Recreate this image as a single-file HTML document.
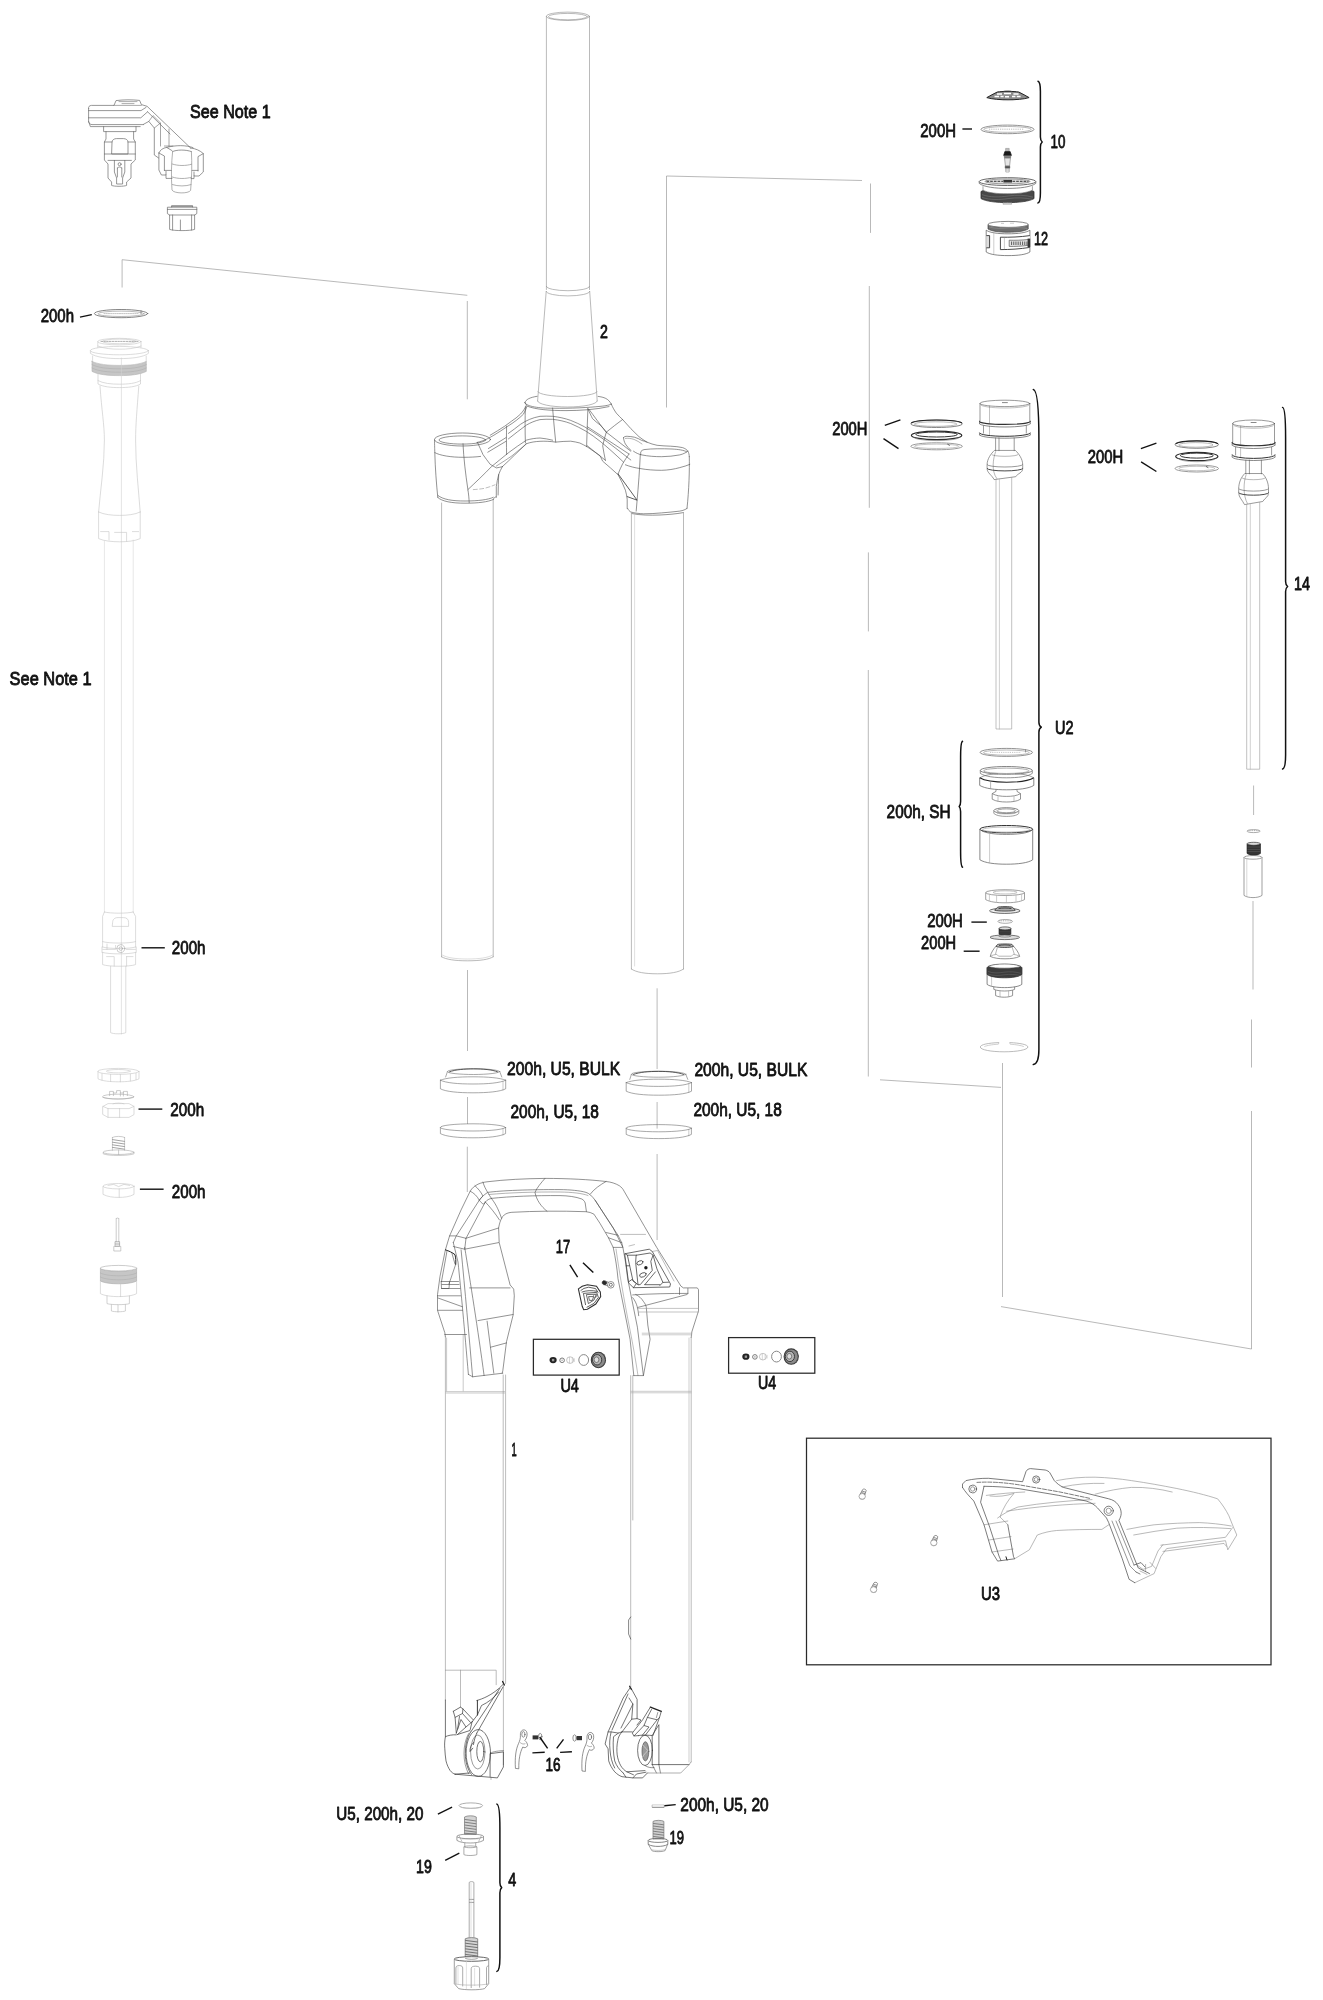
<!DOCTYPE html>
<html><head><meta charset="utf-8"><title>Fork exploded view</title>
<style>
html,body{margin:0;padding:0;background:#fff;}
body{width:1323px;height:2000px;overflow:hidden;font-family:"Liberation Sans",sans-serif;}
svg{display:block;filter:grayscale(1);}
svg text{font-family:"Liberation Sans",sans-serif;font-size:18.7px;fill:#111;stroke:#111;stroke-width:.85px;stroke-linejoin:round;}
#labels{opacity:.999}
</style></head><body>
<svg width="1323" height="2000" viewBox="0 0 1323 2000">
<rect width="1323" height="2000" fill="#fff"/>
<!-- 05_guides.svg -->
<g id="guides" fill="none" stroke="#8a8a8a" stroke-width=".6">
<path d="M122.1 287.5V259.7L467.3 295.3"/>
<path d="M467.3 301V399.3"/>
<path d="M666.5 407.5V176L862 180.5"/>
<path d="M870.5 183.5V232.9M869.3 286V507.8M868.4 552.4V631.4M868.3 670V1076.5"/>
<path d="M880 1079.8L1001 1087.4"/>
<path d="M1002.5 1063V1297"/>
<path d="M1001 1306.6L1251.5 1349"/>
<path d="M1251.5 1349V1111M1251.5 1067.5V1019.5M1253 989.5V901M1253.6 815V785.5"/>
<path d="M467.5 970V1051M467.5 1097V1124M467.3 1146.7V1192"/>
<path d="M657.1 988.3V1069M657.1 1102V1128.6M657.1 1154V1240"/>
</g>

<!-- 10_crown.svg -->
<g id="steerer" stroke="#8c8c8c" fill="none" stroke-width=".6" stroke-linecap="round" stroke-linejoin="round">
<!-- steerer tube -->
<path d="M546.4 16.5V289.5M589.5 16.5V289.5"/>
<ellipse cx="567.9" cy="16.3" rx="21.5" ry="4.2"/>
<ellipse cx="567.9" cy="16.6" rx="19.5" ry="3.2"/>
<path d="M546.4 286.5A21.5 4.2 0 0 0 589.5 286.5"/>
<path d="M546.2 291.5A21.7 4.4 0 0 0 589.7 291.5"/>
<path d="M546.2 291.5L537.6 401M589.7 291.5L597.2 401"/>
<path d="M537.9 391.8A29.6 5 0 0 0 597 391.8"/>
<path d="M537.6 401A29.8 6 0 0 0 597.2 401"/>
</g>
<g id="crown" fill="none" stroke="#4a4a4a" stroke-width=".6" stroke-linecap="round" stroke-linejoin="round">
<!-- hub top -->
<path d="M537.1 396.3C530 397.4 525.6 399.4 524.9 402.7"/>
<path d="M598.1 396.4C604 397.2 608.4 398.4 611.3 404.1"/>
<path d="M524.9 402.7C526 406.6 540 408.4 552.6 408.2C570 408.6 590 407.4 600 406.4C606 405.8 610 405 611.3 404.1"/>
<path d="M527.6 406.3C536 409.6 550 410.6 566 410.6C580 410.6 596 409.6 609 406.6"/>
<!-- upper arm contour left (double) -->
<path d="M524.9 402.7C525.4 403.6 526 404.4 526.5 405C525 408.4 523 411.4 520.5 414.1C517.6 416.8 514.6 419.2 511.4 421.3C509.2 423 507 424.6 504.7 426.2C500 429.4 495 432.2 490.2 435.2"/>
<path d="M527.1 406.2C526 409 524.8 411.6 523.5 414.1C519 418.6 513.6 422.6 507.8 426.2C503.4 429.2 498.6 432.4 493.9 435.2C491.6 436.6 489.4 437.8 487.2 438.9C484 440.4 480.6 441.6 476.9 442.5"/>
<!-- upper arm contour right -->
<path d="M611.3 404.1C612.6 407.4 614.4 410.4 616.3 413.1C618.4 415.4 620.4 417.6 622.6 419.5C625.4 422.6 628 425.6 630.8 428.6C633.6 431.4 636.4 434.2 639 436.7C641.6 438.8 644.4 440.6 647.1 442.2C650.4 443.6 653.6 444.6 657.1 445.3C662 445.8 666 446 670.7 446.2C675 446.4 679 446.8 682.5 447.6C685 448.4 686.8 449.6 687.9 451.2C688.8 452.8 689.2 454.6 689.3 456.7"/>
<!-- hub ribs -->
<path d="M525.4 406.8C525 418 525 431 525.4 443"/>
<path d="M552.6 408.1C553.4 419 554.6 431 555.7 442.1"/>
<path d="M587.9 408.6C587.4 421 587 434 586.6 446.7"/>
<path d="M587.9 408.6C589.4 412.4 591 415.6 592.5 418.6C595 421 597.4 423 600 424.9C602.4 427.4 604.6 429.8 606.3 432.2"/>
<path d="M589.1 409.5C594 416 600 424.6 606.3 432.2"/>
<!-- central arcs -->
<path d="M508.4 433.4C512.6 430.4 516.6 427.4 520.5 424.3C526 420.6 532 417.8 540 416.3C544 416.1 548.4 416.1 552.6 416.3C559 417 565 418.4 570.7 420.4C575.4 422.2 580 424.4 584.3 426.7C590 430 595 433.4 600 436.7C610 443.6 620 451.6 630.8 460"/>
<path d="M508.4 438.9C514.4 434.2 520.4 429.4 526.5 425C530.6 422.6 535 420.8 540 419.6C544 419.2 548 419.2 552.6 419.3C559 420 565 421.4 570.7 423.5C576 425.8 581 428.4 586.1 431.3C591 434.4 595.6 437.6 600 441.2C608 447.6 616 455 623.5 462.1"/>
<!-- underside lines -->
<path d="M467.9 489.6C476 482 484 474.4 491.4 466.7C497 462.2 502.6 457.4 508.4 452.8C514.4 448.4 520.4 444 526.5 440.1C531 438.8 535.4 438.2 540 438C544.4 438.4 548.6 439.2 552.6 440.2"/>
<path d="M502.3 466.7C506.4 463 510.4 459.2 514.4 455.2C518.4 451.4 522.4 447.6 526.5 443.7C530.6 442.2 535.4 441.5 540 441.3C545 441 550.6 441.4 555.7 442.1C560.6 441.6 565.6 441.2 570.7 441.2C573.8 441.6 576.8 442.2 579.8 443C582.4 444.2 584.6 445.4 587 446.7C591.4 449.6 595.6 452.6 600 455.7L602.7 461.2C608 465.6 613 470.2 618.1 474.8C621 480 623.4 485 625.4 490.2C626.4 493.4 626.8 496.4 627.2 499.3V508.4"/>
<path d="M496.3 466.1C501.6 462.8 506.8 459.4 512 455.8C516.8 451.8 521.6 447.8 526.5 443.7" stroke-opacity=".8"/>
<path d="M502.3 466.7C500.8 469.4 499.6 472 498.7 474.5C497.6 478.6 496.8 482.6 496.3 486.6V497M498.7 474.5C498.4 481 498.2 488 498.1 495" />
<!-- left arm cross + lines -->
<path d="M506.6 426.2C506.4 435 506.4 445 506.6 454.6"/>
<path d="M488.4 448.5L506 437.6M487.8 452.2L506 441.3"/>
<path d="M477.5 442.5C479.4 446.6 481.2 450.6 483 454.6C485.4 458 487.8 461.2 490.2 464.3C492.2 465.6 494.2 466.8 496.3 467.9C498.4 467.6 500.4 467.2 502.3 466.7"/>
<path d="M473.3 489.6C477 489.4 480.6 489 484.2 488.4C488 487.4 491.6 486.2 495 484.8" stroke-dasharray="4 2.4" stroke-opacity=".6"/>
<!-- right arm ribs -->
<path d="M622.6 419.5C617 423.6 611.6 427.8 606.3 432.2C605 436.6 603.6 441 602.7 445.8C603.4 450.6 604.4 455.4 605.4 460.3"/>
<path d="M629 454C626.6 457.2 624.6 460.6 622.6 463.9C621 467 619.4 470.6 618.1 473.9"/>
<path d="M587.3 426.7L629 454M606.3 432.2L630.8 451.2M587.3 445.8L605.4 460.3"/>
<path d="M618.1 473.9L637.1 500.2L627.2 496.6" stroke="#333" stroke-width=".8"/>
<!-- bolt recess -->
<path d="M623.5 437.6C624.4 436.6 625.6 436.2 627.2 436.3C629.6 436.4 632 436.7 634.4 437.2C637 438 639.4 439 641.7 440.4C643.6 441 645.4 441.6 647.1 442.2"/>
<path d="M623.5 437.6C623.6 440 624.4 442 625.4 444C627 446.4 628.8 448.4 630.8 450.3"/>
<path d="M625.4 438.4C628 438 631 438.4 634 439.4C637 440.6 639.6 442.2 642 444" stroke-opacity=".7"/>
<!-- left boss -->
<ellipse cx="462.5" cy="439.5" rx="28" ry="6.5"/>
<ellipse cx="462.3" cy="440" rx="23.3" ry="4.1"/>
<path d="M434.8 452.6C440 455.6 451 457.3 463.3 457.3C470 457.3 476 457 480.6 456.4"/>
<path d="M434.5 440C434.6 446 434.7 449 434.8 452.6C435.2 468 436.4 484 437.8 497.5"/>
<path d="M437.8 497.5C442 501.5 452 503.2 465 503.2C478 503.2 488 502 493.3 499.5"/>
<path d="M438 495.5C443 499.5 452 501 465 501C478 501 488 499.8 493.3 497.3"/>
<path d="M493.3 499.5C494 497.6 495.2 496.6 496.3 497"/>
<path d="M463 443.7C463.6 458 465.6 474 467.9 489.6C468.6 494 469 498 469.2 502.8"/>
<!-- right boss -->
<path d="M633.5 451.2C636 453 638.6 454.2 641.7 454.9C648 456.2 655 456.7 661.6 456.7C668 456.6 674 456 679.8 454.9C683.4 454 686 452.6 687.9 451.2"/>
<path d="M640.8 454.4C640 452 641 450.4 644 449.6C652 448.6 662 448.6 672 449C678 449.4 684 450 686.6 451.8" />
<path d="M625.4 464.8C630 466.6 635 467.8 639.9 468.5C647 469.8 654 470.3 661.6 470.3C668 470.2 674 469.2 679.8 467.6C683.6 466.6 687 465.6 689.8 464.4"/>
<path d="M689.3 456.7C689.6 470 689 490 687 508.4"/>
<path d="M640.3 454.4C639.6 470 638.4 486 637.1 500.2L636.2 511.1"/>
<path d="M627.6 508.4C628.4 510 629.4 511.2 630.8 512C635 513.2 639 513.6 643.5 513.8C650 513.8 656 513.4 661.6 512.9C668 512.4 674 511.8 679.8 511.1C683 510.6 685.4 509.6 687 508.4"/>
<path d="M632 513.6C640 515.2 650 515.4 660 515C668 514.6 676 514 683.4 512.6"/>
</g>
<g id="stanchions" stroke="#8c8c8c" fill="none" stroke-width=".6" stroke-linecap="round" stroke-linejoin="round">
<path d="M441.6 503V956.8M493.2 500V956.8"/>
<path d="M441.6 956.8C446 959.5 455 960.8 467.4 960.8C480 960.8 489 959.5 493.2 956.8"/>
<path d="M442.6 955.2C447 957.8 456 959 467.4 959C479 959 488 957.8 492.2 955.2" stroke-opacity=".5"/>
<path d="M631.4 513V969M683.5 513V969"/>
<path d="M631.4 969C636 972.3 645 973.8 657.5 973.8C670 973.8 679 972.3 683.5 969"/>
<path d="M634.6 515V966" stroke-opacity=".45"/>
</g>

<!-- 20_seals.svg -->
<g id="seals" stroke="#6e6e6e" fill="none" stroke-width=".6" stroke-linecap="round" stroke-linejoin="round">
<!-- left dust seal -->
<ellipse cx="473.6" cy="1071.6" rx="26.2" ry="2.9"/>
<path d="M449.5 1071.8C455 1069.6 465 1068.9 473.6 1068.9C483 1068.9 492 1069.6 497.5 1071.8" fill="none" stroke="#333" stroke-width=".8" stroke-linecap="round" stroke-linejoin="round"/>
<path d="M447.4 1071.8L445.6 1077M499.8 1071.8L501.8 1077"/>
<path d="M440.4 1080.2C446 1077.8 458 1076.8 473 1076.8C488 1076.8 500 1077.8 505.7 1080.2"/>
<path d="M440.4 1080.2V1088.8C446 1091.7 458 1092.8 473 1092.8C488 1092.8 500 1091.7 505.7 1088.8V1080.2"/>
<path d="M440.4 1080.2C446 1083 458 1084 473 1084C488 1084 500 1083 505.7 1080.2"/>
<path d="M503 1081.4V1090" stroke-opacity=".6"/>
<!-- left foam ring -->
<ellipse cx="473" cy="1127.4" rx="32.6" ry="3.6"/>
<path d="M440.4 1127.4V1133.6C446 1136.6 458 1137.8 473 1137.8C488 1137.8 500 1136.6 505.6 1133.6V1127.4"/>
<path d="M503 1128.6V1135" stroke-opacity=".6"/>
<!-- right dust seal -->
<ellipse cx="658.6" cy="1074.2" rx="27.2" ry="3"/>
<path d="M633.5 1074.4C639 1072.2 649 1071.4 658.6 1071.4C668 1071.4 678 1072.2 683.6 1074.4" fill="none" stroke="#333" stroke-width=".8" stroke-linecap="round" stroke-linejoin="round"/>
<path d="M631.4 1074.4L629.8 1079.4M685.8 1074.4L687.8 1079.4"/>
<path d="M626.2 1082.6C632 1080.2 644 1079.2 658.8 1079.2C674 1079.2 686 1080.2 691.5 1082.6"/>
<path d="M626.2 1082.6V1091.2C632 1094.1 644 1095.2 658.8 1095.2C674 1095.2 686 1094.1 691.5 1091.2V1082.6"/>
<path d="M626.2 1082.6C632 1085.4 644 1086.4 658.8 1086.4C674 1086.4 686 1085.4 691.5 1082.6"/>
<path d="M688.8 1083.8V1092.4" stroke-opacity=".6"/>
<!-- right foam ring -->
<ellipse cx="658.8" cy="1128.2" rx="32.6" ry="3.6"/>
<path d="M626.2 1128.2V1134.4C632 1137.4 644 1138.6 658.8 1138.6C674 1138.6 686 1137.4 691.4 1134.4V1128.2"/>
<path d="M688.8 1129.4V1135.8" stroke-opacity=".6"/>
</g>

<!-- 30_lower.svg -->
<g id="lower" fill="none" stroke="#4a4a4a" stroke-width=".6" stroke-linecap="round" stroke-linejoin="round">
<!-- arch outer -->
<path d="M445.4 1336.9L444.8 1332.7L437.5 1310.3V1294.6L440 1276.4L445.4 1249.8L449.6 1235.9L461.1 1209.9L470.2 1191.2C472 1188 474.5 1186 478 1184.2C481 1182.8 484 1182.2 487 1181.8C505 1179.6 525 1178.6 545 1178.4C568 1178.4 590 1179.6 606 1181.5C611 1182 615.5 1183.4 619.3 1185.7C621.5 1187.2 623 1189 624.1 1191.2L644.7 1226.8L656.7 1247.4L680.9 1286.1L683.4 1287.9H697.3L698.5 1289.7V1310.9L691.8 1332L691.2 1337.5"/>
<!-- second contour -->
<path d="M453.3 1242.6L456.3 1235.9L479.3 1200.2C481 1197.5 483.5 1195.2 487.7 1192.4C500 1190.6 530 1189.4 560 1189.6C570 1189.7 580 1190.6 586 1192.4C589 1193.2 592 1196 595.1 1200.2L618 1235.3L621.7 1242.6"/>
<path d="M466 1238.3L485.3 1202C487 1200 489 1199 491.4 1198.4C510 1196.4 535 1195.4 560 1195.6C568 1195.7 576 1196.8 581.8 1199C583.5 1200 584.5 1201 585.2 1203L586.4 1211.4"/>
<path d="M489 1194.5C510 1192.6 535 1191.8 560 1192C572 1192.2 582 1193.2 588 1195.5" stroke-opacity=".7"/>
<!-- inner opening -->
<path d="M502.2 1373.2L502.8 1370.8L506.5 1341.7L513.1 1315.1L514.3 1295.8L513.7 1289.1L510.1 1284.9L499.2 1242.6L498.6 1228C499.4 1223.5 500.4 1220.5 501.6 1218.4C502.8 1215.6 505 1214 508 1213C509.5 1212.6 510.6 1212.4 511.9 1212.3C535 1211 560 1210.8 586 1211.7C589 1212 591.6 1212.8 593.9 1214.1L599.9 1223.2L608.4 1237.7L613.2 1247.4C615.5 1258 617 1268 618 1278.8L622.9 1303L630.1 1339.3L633.8 1375.6"/>
<path d="M595.1 1200.2L613.2 1228L622.9 1247.4C625 1258 626.6 1268 627.7 1278.8L637.4 1327.2L643.4 1375.6H633.8"/>
<path d="M608.4 1237.7L621.7 1242.6L622.9 1247.4L613.2 1247.4M618 1235.3L606 1232.5"/>
<path d="M616 1249C619 1270 624 1300 630 1330C633 1345 636 1362 638 1375.6" stroke-opacity=".6"/>
<!-- arch cross lines -->
<path d="M482.9 1182.1C484 1186 486 1189.6 487.7 1192.4C489 1194.5 490 1196.5 491.4 1198.4"/>
<path d="M475 1185.7C478 1188.5 481 1192 482.9 1196L479.3 1200.2"/>
<path d="M470.2 1191.2C474 1193 477 1196 479.3 1200.2C482 1203.5 484 1206 485.3 1202"/>
<path d="M545 1178.4C541 1183 537 1187.5 535 1192.4C536.5 1200 541 1206.5 547 1211.2"/>
<path d="M606 1181.5C600 1185 594 1189 590.2 1194.2"/>
<path d="M491.4 1198.4C495 1203 498 1208 501.6 1218.4M485.3 1202C490 1207 495 1213 499.5 1220"/>
<!-- left panel facets -->
<path d="M466 1238.3L498.6 1228M464.7 1249.2L498.6 1242.6M469.6 1287.9H510.1M478 1320.6L513.1 1314.5M490.7 1347.2L506.5 1342.9"/>
<path d="M487.1 1321.2L493.8 1373.2"/>
<path d="M502.8 1373.2L472.6 1376.8L468.4 1374.4"/>
<path d="M453.3 1242.6L458 1262C461 1290 464.5 1330 468.4 1374.4"/>
<path d="M464.7 1247.4C470 1280 478 1330 484.1 1375.6"/>
<path d="M461.1 1249.8C465 1290 469 1335 472.6 1376.8"/>
<path d="M449.6 1235.9L456.3 1235.9L466 1238.3L464.7 1249.2L453.3 1246.5"/>
<!-- hose guide left -->
<path d="M445.4 1249.8C449 1251 452.5 1252.6 455 1254.7C455.8 1258 456 1261 455.7 1264.3" stroke="#222" stroke-width="1" fill="none" stroke-linecap="round" stroke-linejoin="round"/>
<path d="M447 1251L441.5 1281.5M455.7 1264.3L449 1284M452 1253.5L455 1264"/>
<path d="M441.2 1281.5H458.5M441.2 1281.5L441.5 1288.5H449L449.5 1282M441.5 1288.5H460M442 1284.5H459" />
<path d="M437.5 1295.8H460.5M438 1298L462.3 1306.7M437.8 1310.3H462.5M444.8 1334.5H466.5"/>
<path d="M445.4 1336.9V1700" stroke="#8e8e8e"/>
<path d="M446.6 1338V1391M463.2 1335V1391" stroke-opacity=".5"/>
<path d="M446 1391.6H504.7M446 1393H504.7" stroke="#a8a8a8"/>
<!-- left leg inner edges -->
<path d="M503.2 1375V1683.5M505.6 1375V1683.5" stroke="#8e8e8e"/>
<!-- right: brake-mount recess -->
<path d="M620.6 1234.4H645.5" stroke="#8e8e8e"/>
<g stroke="#3a3a3a" stroke-width=".75">
<path d="M625.1 1253.7L649.3 1249.2L652.3 1251.5L670.5 1284L669.7 1287L633.4 1287.7L628.9 1283.2Z"/>
<path d="M636.5 1255.2L650.1 1253L653.1 1255.2L650.8 1261.3L652.3 1270.4L640.2 1284.7L638 1284.7L635.7 1262.8Z"/>
<path d="M655.4 1271.9L644.8 1284.7M653.1 1255.2L656.9 1268.8L662.9 1282.4L659.9 1285.5"/>
<path d="M625.1 1253.7L627.4 1255.2L629.7 1265.8H626.2M627.4 1255.2L636.5 1255.2M629.7 1265.8L633 1281L638 1284.7"/>
<path d="M628.9 1281.7L632 1279.4L636.4 1283.6L633.4 1287.7M644.8 1284.7H659.9M662.9 1282.4L668.6 1282.2"/>
<ellipse cx="639.9" cy="1262.8" rx="3.3" ry="1.9" transform="rotate(-22 639.9 1262.8)"/>
<ellipse cx="642.9" cy="1274.9" rx="3.5" ry="2" transform="rotate(-22 642.9 1274.9)"/>
<circle cx="645.9" cy="1267.7" r="1.7" fill="#1a1a1a" stroke="none"/>
</g>
<path d="M629 1246L634.5 1244.6M652.3 1251.5L657.5 1250.5L674 1281" stroke-opacity=".6"/>
<path d="M632.7 1294.9C650 1293.8 670 1293.4 687.9 1293.4M687.9 1288.5V1293.4M679.5 1287.7V1294.5"/>
<path d="M635.7 1294.5C639 1296 641.6 1298.4 643.3 1301.3C645 1303.4 646 1305.4 646.3 1307.4L647.8 1325L650.1 1339.3L643.4 1375.6"/>
<path d="M632.7 1297.6C635 1300.6 636.4 1303.6 637.2 1306.6C638 1309.6 638.4 1312.6 638.7 1315.7"/>
<path d="M638 1307.4L687.1 1294.5"/>
<path d="M638 1308.4H698.5M638.7 1312H698.4" stroke="#9a9a9a"/>
<path d="M642.2 1333.2H691.8M642.2 1334.8H691.8" stroke="#a8a8a8"/>
<!-- right leg -->
<path d="M691.2 1337.5V1762" stroke="#8e8e8e"/>
<path d="M689 1338V1762" stroke="#b0b0b0"/>
<path d="M630.7 1375.6V1686.6M632.8 1375.6V1520" stroke="#8e8e8e"/>
<path d="M630.9 1391.3H691.2M630.9 1392.8H691.2" stroke="#a8a8a8"/>
<!-- little lug on right leg inner -->
<path d="M630.7 1617L628.6 1620V1634L630.7 1639" stroke="#333"/>
<!-- left leg bottom -->
<path d="M445.4 1670.2H496.2V1684.7M460.5 1670.2V1707.5" stroke="#8e8e8e"/>
<path d="M503.4 1684V1764.6" stroke="#8e8e8e"/>
<path d="M502.6 1681.5L504.4 1685" stroke="#222" stroke-width="1.3"/>
</g>

<!-- 32_dropouts.svg -->
<g id="dropL" stroke="#383838" stroke-width=".7" fill="none" stroke-linecap="round" stroke-linejoin="round">
<!-- strut from leg inner to dropout -->
<path d="M503.4 1684.1C498 1690 492 1694 487 1696.5C483 1698.5 480 1699.6 476.8 1700.5"/>
<path d="M477.4 1700.5V1715" stroke="#222" stroke-width=".9"/>
<path d="M477.4 1715L481.5 1705.5C488 1702.5 494 1698 498.6 1692"/>
<path d="M499.8 1688.4L470.8 1731.9M503 1687L476.8 1733.1"/>
<path d="M477.4 1715L472 1722"/>
<!-- brake post -->
<path d="M453.3 1711.3L460.5 1707.1L462.9 1708.9L473.2 1719.8" stroke="#333"/>
<path d="M453.3 1711.3L455.1 1717.4L456.3 1733.1M455.1 1717.4L462.5 1713.5L462.9 1708.9M462.5 1713.5L470.5 1722.5"/>
<path d="M456.3 1733.1L461 1719.5L466 1727L457.5 1734.5M459.5 1716.5L457.6 1729"/>
<path d="M466 1727L472.5 1721.5M457.5 1734.5L470 1730.5L472 1722"/>
<!-- outer C -->
<path d="M445.4 1700V1736.7C444.6 1741 444.4 1745 444.8 1748.8C445 1753 445.4 1757 446 1760.9C447 1765 448.5 1768 450.2 1770.6C451.6 1772.4 453 1773.4 455.1 1774.2"/>
<path d="M445.4 1736.7C448 1735.4 452 1734.6 456.3 1734.8"/>
<path d="M455.1 1774.2L469.6 1773"/>
<path d="M455.1 1774.2L497.4 1777.9L503.4 1767V1751.9L490.1 1753.7V1776.5"/>
<path d="M490.1 1753.7C491 1752 496 1751 503.4 1750.6" stroke-opacity=".7"/>
<path d="M491 1777.3V1779.5" stroke-opacity=".5"/>
<!-- axle boss -->
<ellipse cx="478.3" cy="1753" rx="12.2" ry="23.4"/>
<path d="M470.6 1731.9C467 1737 465.2 1745 465.3 1753.5C465.4 1762 467.6 1769.5 471.5 1774.5"/>
<path d="M468.6 1733.5C465.5 1739 464 1746 464 1753.5C464 1761 465.6 1768 468.5 1773.6" stroke-opacity=".7"/>
<ellipse cx="480.3" cy="1751.6" rx="3.5" ry="10.2"/>
<ellipse cx="477.8" cy="1752" rx="7.2" ry="17" stroke-opacity=".7"/>
<path d="M473.5 1742.5C471 1745 469.8 1748 470 1751.5L472.8 1748.2"/>
<path d="M476.8 1733.1C475 1737 474 1741 473.5 1744.5"/>
</g>
<g id="dropR" stroke="#383838" stroke-width=".7" fill="none" stroke-linecap="round" stroke-linejoin="round">
<path d="M630.5 1687.2L623.2 1698L608.1 1731.9L605.1 1744L608.1 1748.8L608.7 1760.9C610 1765 612 1768.5 614.7 1771.8C617 1774 619 1775.6 622 1776.7L632.9 1777.9H642.6L647.4 1773"/>
<path d="M629.6 1686.2L631.4 1689.5" stroke="#222" stroke-width="1.2"/>
<path d="M630.5 1687.2L637.1 1699.3V1718.6L631.7 1719.2L632.9 1704.1L629 1698"/>
<path d="M628 1694L612 1730M632.9 1704.1L621 1728M631.7 1719.2L622 1731.9"/>
<path d="M637.1 1718.6L641 1720L637 1725"/>
<path d="M608.1 1731.9L611.1 1731.9L618.4 1733.1L622 1731.9"/>
<path d="M618.4 1733.1L613.5 1736.7C612.8 1745 613.2 1753 614.7 1760.9C616.5 1766 619.5 1770 623.2 1773"/>
<path d="M611.1 1731.9C609.6 1738 609.4 1744 610 1750C610.5 1757 612 1763 614.7 1768"/>
<path d="M622 1731.9C619.5 1734.5 618.2 1737.5 617.8 1740.4C616.8 1745 616.6 1750 617.2 1754.9C617.8 1759 619 1762.5 620.8 1765.8C622.5 1768.5 624.4 1770.4 626.8 1771.8L645 1770.6"/>
<path d="M622 1731.9H632.3"/>
<path d="M623.2 1773L626 1777.3M632.9 1777.9L636.5 1774L646 1772.2M626.8 1771.8L633.5 1774.8"/>
<!-- brake post R -->
<path d="M650.4 1707.1L661.3 1711.3" stroke="#222" stroke-width="1.3"/>
<path d="M650.4 1707.1L642.6 1719.8L632.3 1733.1L634 1736L644 1725.5L647.4 1717.4L657.1 1719.8L659.5 1717.4L661.3 1711.3"/>
<path d="M651.5 1709.5L647.4 1717.4M657.1 1719.8L645.5 1735M659.5 1717.4L653 1735.5M634 1736L638.5 1735.6M644 1725.5L649 1727L642 1735.6"/>
<path d="M657.8 1712.5L656.4 1717.6" stroke-opacity=".7"/>
<!-- axle boss R -->
<ellipse cx="645" cy="1750.3" rx="7.4" ry="15.2"/>
<ellipse cx="645.4" cy="1751.3" rx="3.4" ry="9.6" fill="#9a9a9a" stroke="#555"/>
<path d="M642.4 1744.5C643.5 1747 646.5 1748 647.6 1750.5C646.5 1753 643.5 1754 642.6 1757" stroke="#ddd" stroke-width=".7"/>
<path d="M638.5 1735.6C640 1735 645 1735 652.2 1735.5L658.9 1724.7V1764.6M652.2 1735.5V1764.6M652.2 1764.6H689.1"/>
<path d="M652.4 1765L656.5 1773M658.9 1764.6L660.5 1773" stroke-opacity=".8"/>
<path d="M691 1762L689.1 1764.6L680.7 1773H647.4" stroke="#8e8e8e"/>
<path d="M645 1765.6C648 1767.5 651 1768 654 1767.6" stroke-opacity=".8"/>
</g>
<g id="clips16" fill="none" stroke="#4a4a4a" stroke-width=".6" stroke-linecap="round" stroke-linejoin="round">
<!-- left clip -->
<g transform="translate(-66.6 -2.6) scale(1.0)">
<path d="M582 1770.6C581.4 1760 582.4 1752 585.2 1746C586.4 1743.4 587.2 1740.8 587 1738C586.8 1735.4 587.6 1733.4 589.4 1732.6C591.4 1732 593.2 1733.2 593.6 1735.6C594 1738.4 593.2 1741 591.4 1743C593 1744.4 594.2 1746.2 594.2 1748.2C593 1750.4 591 1750.8 589.4 1749.6C586.6 1755 585.2 1762 585.4 1771Z"/>
<ellipse cx="590" cy="1737" rx="1.6" ry="2.8"/>
<path d="M587 1745.4C588.6 1746.6 590.2 1747 591.6 1746.4" stroke-opacity=".7"/>
</g>
<!-- left screw -->
<rect x="532.6" y="1735.4" width="5.6" height="4" fill="#333" stroke="none"/>
<ellipse cx="540.2" cy="1736.6" rx="1.7" ry="3.2"/>
<!-- right clip -->
<path d="M582 1770.6C581.4 1760 582.4 1752 585.2 1746C586.4 1743.4 587.2 1740.8 587 1738C586.8 1735.4 587.6 1733.4 589.4 1732.6C591.4 1732 593.2 1733.2 593.6 1735.6C594 1738.4 593.2 1741 591.4 1743C593 1744.4 594.2 1746.2 594.2 1748.2C593 1750.4 591 1750.8 589.4 1749.6C586.6 1755 585.2 1762 585.4 1771Z"/>
<ellipse cx="590" cy="1737" rx="1.6" ry="2.8"/>
<path d="M587 1745.4C588.6 1746.6 590.2 1747 591.6 1746.4" stroke-opacity=".7"/>
<rect x="576.6" y="1736" width="5.4" height="4.2" fill="#333" stroke="none"/>
<ellipse cx="574.6" cy="1738" rx="1.7" ry="3.2"/>
</g>

<!-- 40_topcap.svg -->
<g id="topcap10">
<!-- knob -->
<path d="M986.8 97.6C990 96 994 93.4 997.3 92C1002 91.2 1014 91.2 1018.7 92C1022 93.4 1026 96 1029.1 97.6C1024 99.2 1016 99.8 1008 99.8C1000 99.8 992 99.2 986.8 97.6Z" fill="#8c8c8c" stroke="#222" stroke-width="1"/>
<path d="M994.5 96.4H999M1000.5 96.6H1003.6M1005 96.8H1009M1012 96.6H1015.4M1016.8 96.4H1020.6M997 94H1002M1004 93.6H1011M1013.4 94H1018.6" stroke="#fff" stroke-width="1.5" fill="none"/>
<path d="M1003 91.4C1004 90.6 1011 90.6 1012 91.4" fill="none" stroke="#4a4a4a" stroke-width=".6" stroke-linecap="round" stroke-linejoin="round"/>
<path d="M1003 100.6H1013" fill="none" stroke="#bdbdbd" stroke-width=".6" stroke-linecap="round" stroke-linejoin="round"/>
<!-- oring -->
<ellipse cx="1007.5" cy="129.4" rx="26.5" ry="4.3" fill="none" stroke="#777" stroke-width=".8"/>
<ellipse cx="1007.5" cy="129.4" rx="23.6" ry="2.9" fill="none" stroke="#999" stroke-width=".7"/>
<path d="M989 129.2H1024" stroke="#aaa" stroke-width=".8" stroke-dasharray="1.2 1"/>
<!-- valve core -->
<path d="M1005.6 148.4H1009.2V151.4H1005.6Z" fill="#bbb" stroke="#888" stroke-width=".5"/>
<path d="M1003.6 155.4L1004.8 151.6H1010.2L1011.5 155.4Z" fill="#1a1a1a" stroke="#111" stroke-width=".6"/>
<path d="M1004.2 156.2H1010.8L1010.4 158.6H1004.6Z" fill="#777" stroke="#555" stroke-width=".5"/>
<path d="M1004.6 158.6L1005.4 166H1009.6L1010.4 158.6" fill="#e6e6e6" stroke="#777" stroke-width=".6"/>
<path d="M1005.2 166.2H1009.8V168.2H1005.2Z" fill="#555" stroke="#444" stroke-width=".5"/>
<path d="M1005.8 168.2V172H1009.2V168.2M1005.6 170H1009.4" fill="none" stroke="#888" stroke-width=".6"/>
<!-- cap body -->
<path d="M981 191.5V198.6C986 201.4 996 202.6 1007.5 202.6C1019 202.6 1029 201.4 1034 198.6V191.5C1029 188.9 1019 188 1007.5 188C996 188 986 188.9 981 191.5Z" fill="#484848" stroke="#333" stroke-width=".8"/>
<path d="M982 194.6C990 197.6 1000 197.2 1008 196C1016 194.8 1026 195 1033 197.2M982 197.4C990 200.2 1000 199.8 1008 198.6C1016 197.4 1026 197.6 1033 199.6" fill="none" stroke="#777" stroke-width=".6"/>
<path d="M983 186.2V190.2C988 192.8 997 193.8 1007.5 193.8C1018 193.8 1027 192.8 1032.4 190.2V186.2" fill="#fff" stroke="#666" stroke-width=".6"/>
<ellipse cx="1007.5" cy="181.6" rx="28.3" ry="3.9" fill="#fff" stroke="#444" stroke-width=".8"/>
<path d="M979.2 181.8V183.4C984 187 995 188.4 1007.5 188.4C1020 188.4 1031 187 1035.8 183.4V181.8" fill="none" stroke="#555" stroke-width=".7"/>
<ellipse cx="1007.5" cy="181.4" rx="22.5" ry="2.5" fill="#ddd" stroke="#666" stroke-width=".6"/>
<path d="M986.5 181.4H1003M1012.5 181.4H1028.5" stroke="#555" stroke-width="1.3" stroke-dasharray="2.6 1.1" fill="none"/>
<rect x="1003.4" y="179.9" width="8.6" height="2.6" fill="#333"/>
<path d="M1003 202.9H1011.6V204.3H1003Z" fill="#ddd" stroke="#999" stroke-width=".5"/>
</g>
<g id="part12">
<path d="M986.2 230.2V252C990 254.6 998 255.6 1008 255.6C1018 255.6 1026 254.6 1029.9 252V230.2" fill="#fff" stroke="#555" stroke-width=".7"/>
<path d="M988 224.4V229C992 231.4 999 232.2 1008.1 232.2C1017 232.2 1024 231.4 1028.2 229V224.4" fill="#6e6e6e" stroke="#444" stroke-width=".7"/>
<ellipse cx="1008.1" cy="224.4" rx="20.1" ry="3" fill="#fff" stroke="#555" stroke-width=".7"/>
<path d="M986.2 230.2C990 232.8 998 233.8 1008 233.8C1018 233.8 1026 232.8 1029.9 230.2" fill="none" stroke="#555" stroke-width=".7"/>
<path d="M989 227C996 229 1003 228.4 1008 227.8C1014 227.2 1022 227.4 1027.6 228.6" fill="none" stroke="#999" stroke-width=".5"/>
<path d="M1001 223.4H1004M1010 223.2H1014" stroke="#999" stroke-width=".5"/>
<path d="M993.8 231.8V254" stroke="#aaa" stroke-width=".6"/>
<path d="M986.4 235.6H989.6V247.8H986.4" fill="#ddd" stroke="#333" stroke-width=".9"/>
<path d="M1029.9 235.6C1020 237 1010 237.4 1000.4 237.2V249.6C1010 249.6 1020 249 1029.9 247.4" fill="#fff" stroke="#333" stroke-width=".9"/>
<path d="M1004.4 237.6V249.4" stroke="#999" stroke-width=".5"/>
<path d="M1029.4 239.4C1022 240.2 1015 240.4 1009.2 240.2V246.4C1015 246.6 1022 246.2 1029.4 245.2" fill="#e4e4e4" stroke="#555" stroke-width=".7"/>
<path d="M1011 243.3H1029" stroke="#666" stroke-width="3.4" stroke-dasharray="1.1 1.1"/>
<rect x="1027.6" y="238.6" width="2.6" height="8.4" fill="#333"/>
</g>

<!-- 50_pistons.svg -->
<g id="ringsU2" fill="none">
<ellipse cx="936.6" cy="423.8" rx="25.8" ry="3.7" stroke="#666" stroke-width=".8"/>
<path d="M911.3 423.0A25.8 3.7 0 0 1 961.9 423.0" stroke="#222" stroke-width="1.2"/>
<ellipse cx="935.6" cy="424.1" rx="21.3" ry="2.3" stroke="#888" stroke-width=".6"/>
<ellipse cx="936.6" cy="435.4" rx="25.2" ry="4.2" stroke="#2a2a2a" stroke-width="1.2"/>
<ellipse cx="936.6" cy="434.5" rx="20.6" ry="2.5" stroke="#333" stroke-width="1"/>
<path d="M913.8 437.0A22.8 3.6 0 0 0 959.4 437.0" stroke="#777" stroke-width=".6"/>
<ellipse cx="936.6" cy="446.3" rx="25.8" ry="3.5" stroke="#8e8e8e" stroke-width=".9"/>
<ellipse cx="936.6" cy="446.3" rx="22.2" ry="2.2" stroke="#aaa" stroke-width=".7"/>
<path d="M947.4 444.1l2.4 1.4" stroke="#555" stroke-width=".9"/>
</g>
<g id="pistonU2" stroke="#555" fill="none" stroke-width=".6" stroke-linecap="round" stroke-linejoin="round">
<path d="M980.0 403.4V421.2M1029.8 403.4V421.2"/>
<ellipse cx="1004.9" cy="403.4" rx="24.9" ry="3.2"/>
<path d="M980.5 404.8A24.4 3.2 0 0 0 1029.3 404.8" stroke-opacity=".6"/>
<path d="M1002.4 402.6h5.0" stroke="#888" stroke-width="1"/>
<path d="M989.5 406.0V423.2" stroke-opacity=".6"/>
<path d="M979.5 421.2A25.4 3.2 0 0 0 1030.3 421.2" stroke="#333" stroke-width="1.1"/>
<path d="M979.5 423.8A25.4 3.2 0 0 0 1030.3 423.8" stroke="#555" stroke-width="0.7"/>
<path d="M979.5 421.2v2.6M1030.3 421.2v2.6"/>
<path d="M983.5 425.7V433.1M1026.3 425.7V433.1"/>
<path d="M989.5 426.2V435.5" stroke-opacity=".6"/>
<path d="M979.5 433.1A25.4 3.2 0 0 0 1030.3 433.1" stroke="#333" stroke-width="1.0"/>
<path d="M979.5 435.0A25.4 3.2 0 0 0 1030.3 435.0" stroke="#555" stroke-width="0.7"/>
<path d="M979.5 433.1v1.9M1030.3 433.1v1.9"/>
<path d="M995.6 437.9V450.7M1014.2 437.9V450.7M999.0 437.9V450.7"/>
<path d="M994.1 450.7C991.1 453.7 987.1 458.8 987.1 464.8L987.1 468.7C987.1 472.8 992.1 475.4 994.1 479.6L1015.7 476.7C1017.7 473.4 1022.7 472.8 1022.7 468.7L1022.7 464.8C1022.7 458.8 1018.7 453.7 1015.7 450.7Z"/>
<path d="M987.1 464.8A17.8 2.2 0 0 0 1022.7 464.8"/>
<path d="M987.1 468.7A17.8 2.2 0 0 0 1022.7 468.7" stroke="#333" stroke-width=".9"/>
<path d="M991.7 454.7A13.2 1.6 0 0 0 1018.1 454.7" stroke-opacity=".7"/>
<path d="M995.6 451.7C993.1 458.7 991.1 470.8 996.7 478.4" stroke-opacity=".7"/>
<path d="M996.0 479.4V729.0H1011.7V477.4" stroke="#979797"/>
<path d="M999.4 479.0V729.0" stroke="#b0b0b0"/>
</g>
<g id="rings14" fill="none">
<ellipse cx="1196.8" cy="444.6" rx="21.7" ry="3.7" stroke="#666" stroke-width=".8"/>
<path d="M1175.6 443.8A21.7 3.7 0 0 1 1218.0 443.8" stroke="#222" stroke-width="1.2"/>
<ellipse cx="1195.8" cy="444.9" rx="17.2" ry="2.3" stroke="#888" stroke-width=".6"/>
<ellipse cx="1196.8" cy="456.5" rx="21.1" ry="4.2" stroke="#2a2a2a" stroke-width="1.2"/>
<ellipse cx="1196.8" cy="455.6" rx="16.5" ry="2.5" stroke="#333" stroke-width="1"/>
<path d="M1178.1 458.1A18.7 3.6 0 0 0 1215.5 458.1" stroke="#777" stroke-width=".6"/>
<ellipse cx="1196.8" cy="468.5" rx="21.7" ry="3.5" stroke="#8e8e8e" stroke-width=".9"/>
<ellipse cx="1196.8" cy="468.5" rx="18.1" ry="2.2" stroke="#aaa" stroke-width=".7"/>
<path d="M1205.9 466.3l2.4 1.4" stroke="#555" stroke-width=".9"/>
</g>
<g id="piston14" stroke="#555" fill="none" stroke-width=".6" stroke-linecap="round" stroke-linejoin="round">
<path d="M1232.7 423.4V442.4M1274.5 423.4V442.4"/>
<ellipse cx="1253.6" cy="423.4" rx="20.9" ry="3.4"/>
<path d="M1233.2 424.9A20.4 3.4 0 0 0 1274.0 424.9" stroke-opacity=".6"/>
<path d="M1251.1 422.5h5.0" stroke="#888" stroke-width="1"/>
<path d="M1240.6 426.1V444.5" stroke-opacity=".6"/>
<path d="M1232.2 442.4A21.4 3.4 0 0 0 1275.0 442.4" stroke="#333" stroke-width="1.1"/>
<path d="M1232.2 445.1A21.4 3.4 0 0 0 1275.0 445.1" stroke="#555" stroke-width="0.7"/>
<path d="M1232.2 442.4v2.8M1275.0 442.4v2.8"/>
<path d="M1235.6 447.1V455.0M1271.6 447.1V455.0"/>
<path d="M1240.6 447.7V457.6" stroke-opacity=".6"/>
<path d="M1232.2 455.0A21.4 3.4 0 0 0 1275.0 455.0" stroke="#333" stroke-width="1.0"/>
<path d="M1232.2 457.1A21.4 3.4 0 0 0 1275.0 457.1" stroke="#555" stroke-width="0.7"/>
<path d="M1232.2 455.0v2.0M1275.0 455.0v2.0"/>
<path d="M1245.8 460.1V473.8M1261.4 460.1V473.8M1249.4 460.1V473.8"/>
<path d="M1244.5 473.8C1241.3 477.0 1238.7 482.4 1238.7 488.8L1238.7 492.9C1238.7 497.3 1242.4 500.1 1244.5 504.6L1262.7 501.5C1264.8 497.9 1268.5 497.3 1268.5 492.9L1268.5 488.8C1268.5 482.4 1265.9 477.0 1262.7 473.8Z"/>
<path d="M1238.7 488.8A14.9 2.3 0 0 0 1268.5 488.8"/>
<path d="M1238.7 492.9A14.9 2.3 0 0 0 1268.5 492.9" stroke="#333" stroke-width=".9"/>
<path d="M1242.0 478.0A11.6 1.7 0 0 0 1265.2 478.0" stroke-opacity=".7"/>
<path d="M1246.1 474.8C1243.4 482.3 1242.9 495.2 1247.3 503.3" stroke-opacity=".7"/>
<path d="M1246.7 504.3V769.2H1259.7V502.3" stroke="#979797"/>
<path d="M1250.3 503.9V769.2" stroke="#b0b0b0"/>
</g>

<!-- 55_sealhead.svg -->
<g id="sealhead" fill="none">
<!-- top oring -->
<ellipse cx="1006.3" cy="752.4" rx="26.2" ry="4" stroke="#777" stroke-width=".8"/>
<ellipse cx="1006.3" cy="752.6" rx="22.8" ry="2.6" stroke="#999" stroke-width=".7"/>
<path d="M990 752.4H1021" stroke="#aaa" stroke-width=".7" stroke-dasharray="1.2 1"/>
<path d="M1025.5 749.4v3" stroke="#777" stroke-width=".7"/>
<!-- seal head -->
<ellipse cx="1006.3" cy="770.4" rx="26" ry="3.9" stroke="#666" stroke-width=".8"/>
<ellipse cx="1006.3" cy="770.8" rx="22.6" ry="2.7" stroke="#888" stroke-width=".7"/>
<path d="M980.3 770.6V773.4C985 776.6 995 777.8 1006.3 777.8C1018 777.8 1028 776.6 1032.3 773.4V770.6" stroke="#666" stroke-width=".7"/>
<path d="M979.7 777.8C985 774.8 992 774 998 773.8M1033.8 777.8C1029 774.8 1022 774 1015 773.8" stroke="#666" stroke-width=".6"/>
<path d="M979.7 777.8C985 781 995 782.2 1006.6 782.2C1018 782.2 1029 781 1033.8 777.8" stroke="#222" stroke-width="1.1"/>
<path d="M979.7 777.8V785.4C985 788.6 995 789.8 1006.6 789.8C1018 789.8 1029 788.6 1033.8 785.4V777.8" stroke="#555" stroke-width=".7"/>
<path d="M990.6 781.4V789" stroke="#888" stroke-width=".6"/>
<path d="M996 789.6V791.4L992.2 793.6V799.2C996 801.4 1001 802 1006.4 802C1012 802 1017 801.4 1020.5 799.2V793.6L1017 791.4V789.6" stroke="#666" stroke-width=".7"/>
<path d="M992.2 793.6C996 795.8 1001 796.4 1006.4 796.4C1012 796.4 1017 795.8 1020.5 793.6" stroke="#666" stroke-width=".7"/>
<path d="M998 796.2V801.6M1014 796.2V801.6" stroke="#999" stroke-width=".6"/>
<!-- small ring -->
<ellipse cx="1006.3" cy="810.6" rx="12.5" ry="2.9" stroke="#666" stroke-width=".8"/>
<ellipse cx="1006.3" cy="810.8" rx="9.4" ry="1.9" stroke="#777" stroke-width=".7"/>
<path d="M993.8 810.8V813.4C996 815.6 1001 816.4 1006.3 816.4C1012 816.4 1017 815.6 1018.8 813.4V810.8" stroke="#777" stroke-width=".7"/>
<path d="M997 813.2C1000 814.2 1012 814.2 1015.6 813.2" stroke="#999" stroke-width=".6"/>
<!-- cylinder -->
<path d="M979.9 829.4V859.8C985 863 995 864.2 1006.3 864.2C1018 864.2 1028 863 1032.7 859.8V829.4" stroke="#555" stroke-width=".7"/>
<ellipse cx="1006.3" cy="829.2" rx="26.4" ry="3.7" stroke="#333" stroke-width="1"/>
<path d="M981.5 830.6C986 833.4 996 834.4 1006.3 834.4C1017 834.4 1027 833.4 1031.2 830.6" stroke="#555" stroke-width=".7"/>
<ellipse cx="1006.3" cy="829.6" rx="23.6" ry="2.5" stroke="#999" stroke-width=".6"/>
<path d="M989.6 833.8V863" stroke="#aaa" stroke-width=".6"/>
</g>
<g id="footstack" fill="none">
<!-- nut -->
<path d="M985.7 892.6V899.6C990 902 997 902.8 1005 902.8C1013 902.8 1020 902 1024.5 899.6V892.6" stroke="#777" stroke-width=".7"/>
<ellipse cx="1005.1" cy="892.6" rx="19.4" ry="2.9" stroke="#777" stroke-width=".7"/>
<ellipse cx="1005.1" cy="892.4" rx="12" ry="1.6" stroke="#999" stroke-width=".6"/>
<path d="M989.4 894.6V900.8M996.6 895.4V902M1006.4 895.6V902.6M1016 895.2V901.6M1021.6 894.4V900.4" stroke="#aaa" stroke-width=".6"/>
<!-- washer with raised centre -->
<ellipse cx="1004.8" cy="910.8" rx="15.3" ry="2.6" fill="#eee" stroke="#444" stroke-width=".8"/>
<path d="M994.6 910.2L997.6 907.2C1000 906.4 1010 906.4 1012.4 907.2L1015.4 910.2C1012 911.4 998 911.4 994.6 910.2Z" fill="#aaa" stroke="#333" stroke-width=".8"/>
<path d="M998.6 908.6C1001 907.8 1009 907.8 1011.4 908.6" stroke="#222" stroke-width=".8"/>
<!-- tiny ring -->
<ellipse cx="1005.2" cy="921.4" rx="7.3" ry="1.9" stroke="#888" stroke-width=".7"/>
<path d="M999.4 920.8H1011" stroke="#999" stroke-width=".9" stroke-dasharray="1 .8"/>
<!-- dark nut -->
<path d="M999 928.6V934.2C1001 935.4 1003 935.8 1005 935.8C1007 935.8 1009.4 935.4 1010.9 934.2V928.6Z" fill="#2b2b2b" stroke="#222" stroke-width=".6"/>
<ellipse cx="1005" cy="928.4" rx="6" ry="1.5" fill="#ddd" stroke="#333" stroke-width=".7"/>
<path d="M999.4 931.2H1010.6M999.4 933H1010.6" stroke="#666" stroke-width=".5"/>
<!-- washer -->
<ellipse cx="1004.8" cy="937.3" rx="14.8" ry="2.3" fill="#ddd" stroke="#555" stroke-width=".8"/>
<path d="M998.6 936.2C1001 937.4 1009 937.4 1011.2 936.2" stroke="#555" stroke-width=".6"/>
<!-- cone -->
<path d="M995.9 946.4C993.4 949 991.2 952.6 990.2 956.4C994 958.2 999 958.8 1005 958.8C1011 958.8 1016 958.2 1019.7 956.4C1018.6 952.6 1016.2 949 1013.6 946.4" stroke="#666" stroke-width=".7"/>
<path d="M995.9 946.4L997.6 944.4C1000 943.8 1010 943.8 1012 944.4L1013.6 946.4C1010 947.8 999.6 947.8 995.9 946.4Z" fill="#bbb" stroke="#333" stroke-width=".8"/>
<path d="M999 945.6C1002 944.8 1008 944.8 1010.6 945.6" stroke="#222" stroke-width=".7"/>
<path d="M990.2 956.4C992 955.2 994.6 954.6 996.8 954.4M1019.7 956.4C1018 955.2 1015.4 954.6 1013.2 954.4M996.8 954.4L998.6 956.2H1011.4L1013.2 954.4M997.4 947.4L995.4 954.4M1012.2 947.4L1014.4 954.4" stroke="#888" stroke-width=".6"/>
<!-- threaded body -->
<path d="M987.1 967.4V984.4C990 986.6 997 987.6 1004.6 987.6C1012 987.6 1019 986.6 1021.8 984.4V967.4" fill="#fff" stroke="#555" stroke-width=".7"/>
<path d="M987.1 967.4V974.4C990 976.8 997 977.8 1004.6 977.8C1012 977.8 1019 976.8 1021.8 974.4V967.4C1019 965.2 1012 964.4 1004.6 964.4C997 964.4 990 965.2 987.1 967.4Z" fill="#3c3c3c" stroke="#2a2a2a" stroke-width=".7"/>
<path d="M988 966.4C992 964.6 998 964 1004.6 964C1011 964 1017 964.6 1021 966.4C1017 967.8 1011 968.2 1004.6 968.2C998 968.2 992 967.8 988 966.4Z" fill="#fff" stroke="#444" stroke-width=".6"/>
<path d="M988 971.4C993 973.6 999 973 1004 972.2C1010 971.4 1016 971.8 1021 973.4M988 974C993 976 999 975.6 1004 974.8C1010 974 1016 974.4 1021 975.8" stroke="#6a6a6a" stroke-width=".5"/>
<path d="M991.6 977V986" stroke="#aaa" stroke-width=".6"/>
<path d="M993.8 986.8V989.4C997 990.6 1001 991 1004.4 991C1008 991 1012 990.6 1014.6 989.4V986.8" stroke="#666" stroke-width=".7"/>
<path d="M995.6 990.2V995.6C998 996.8 1001 997.2 1004.2 997.2C1007 997.2 1010 996.8 1012.6 995.6V990.2" stroke="#666" stroke-width=".7"/>
<path d="M1000 991V997M1008.6 991V997" stroke="#999" stroke-width=".6"/>
<!-- clip ring -->
<path d="M999 1042.6C988 1043 980.4 1044.6 980.3 1047C980.3 1049.8 991 1051.8 1004.1 1051.8C1017 1051.8 1027.9 1049.8 1027.9 1047C1027.8 1044.6 1020 1043 1009.6 1042.6" stroke="#aaa" stroke-width=".8"/>
<path d="M999 1042.6L998.4 1044.2C992 1044.6 987 1045.4 984.4 1046.6M1009.6 1042.6L1010.2 1044.2C1016 1044.6 1021 1045.4 1023.8 1046.6" stroke="#bbb" stroke-width=".7"/>
</g>
<g id="nub14" fill="none">
<ellipse cx="1253.6" cy="831.1" rx="6.6" ry="1.5" stroke="#888" stroke-width=".7"/>
<path d="M1248.6 830.6H1258.6" stroke="#999" stroke-width=".8" stroke-dasharray="1 .8"/>
<path d="M1247 844V853.4C1249 854.8 1251 855.2 1253.7 855.2C1256.4 855.2 1258.6 854.8 1260.5 853.4V844Z" fill="#333" stroke="#222" stroke-width=".6"/>
<ellipse cx="1253.7" cy="843.8" rx="6.7" ry="1.5" fill="#ddd" stroke="#333" stroke-width=".7"/>
<path d="M1247.4 847H1260.2M1247.4 849.4H1260.2M1247.4 851.6H1260.2" stroke="#666" stroke-width=".5"/>
<path d="M1244 857.4V895.4C1246 897 1250 897.6 1253 897.6C1256 897.6 1260 897 1262 895.4V857.4" stroke="#777" stroke-width=".7"/>
<ellipse cx="1253" cy="857.4" rx="9" ry="1.8" stroke="#777" stroke-width=".7"/>
<path d="M1246.8 859V896.6" stroke="#bbb" stroke-width=".6"/>
</g>

<!-- 60_leftdamper.svg -->
<g id="remote" stroke="#6a6a6a" stroke-width=".7" fill="none" stroke-linecap="round" stroke-linejoin="round">
<!-- bracket top -->
<path d="M88.6 108.4C88.2 106.6 89.4 105.6 91.4 105.4H114L116 100.6C124 99.6 132 99.6 139.6 100.4L141.4 104.6L147.1 106.3L190.6 148"/>
<path d="M88.6 108.4V121.4C89 123.4 90 124.4 92 124.6H143.4M88.6 110.6H141L146 107.4M88.4 117.8H140.8L147.6 111.8M88.6 121.4L90.4 126.6H140.2"/>
<path d="M119 101.6H137M122 103.6H134M114 105.4H141.4" stroke-opacity=".8"/>
<path d="M147.6 111.8L170 134M143.4 124.4L148.8 121.4L154.3 128V155L158.6 158"/>
<path d="M148.8 121.4L153 115.6L160.5 123V146M154.3 128L160.5 123M169 129V146.6M164.4 146H173" stroke-opacity=".85"/>
<!-- lower cylinder -->
<path d="M103.6 126.6V131.6H136V126.6M106 131.6V139L104.4 142V160L108 164V178L111.6 182V185.4C114 186.6 124 186.6 126.6 185.4V182L131 178V164L135.3 160V142L133.6 139V131.6"/>
<path d="M112 142C112 140 114 138.6 116.6 138.6H123.4C126 138.6 128 140 128 142V154H112ZM104.4 154H135.3M108 160.4H131.4M104.4 142H112M128 142H135.3"/>
<path d="M114.4 160.4V172L116.6 178V184H122.6V178L124.8 172V160.4M117.4 168V177M121.8 168V177M117.4 168C118.6 166.6 120.6 166.6 121.8 168"/>
<circle cx="119.6" cy="164.2" r="1.5"/>
<!-- right knob -->
<path d="M158.9 153C160 150 163 148 166.6 147.4L172 150.6M158.9 153V170L161.4 175H166V171.4M190.6 148C196 148.6 200 150.6 203.3 153.6V172L199 176H194V172M172.6 151.6C176 149.6 186 149.4 191.4 151.6M166.6 147.4C176 145 186 145 193 147.6M203.3 153.6L198 156.6V171M158.9 153L164.4 156V170.4M164.4 170.4H171.6M192 170.4H198"/>
<path d="M172.6 151.6C171.4 163 171 176 172 190C173.6 193.6 188.4 194 190.6 190.4C192 176 192 163 191.4 151.6M172.2 177C178 179 186 179 191.4 177.2M172.2 164C178 166 186 166 191.6 164.2M172.4 184.6C178 186.4 186 186.4 191 184.6" stroke="#8f8f8f"/>
<path d="M166 175V178.4H172M194 176V178.6H191" />
<!-- cup -->
<path d="M167.4 207.6V213.6L169.6 215V229.4C174 231 190 231 194.6 229.4V215L196.8 213.6V207.6Z"/>
<path d="M167.4 209.4H196.8M171.6 207V205.8H192.6V207M169.6 215H194.6M172.6 215V230M191.6 215V230M180.4 220V230" />
<path d="M171.6 206.2H192.6" stroke="#777" stroke-width=".9"/>
</g>
<g id="damperL" stroke="#c4c4c4" fill="none" stroke-width=".6" stroke-linecap="round" stroke-linejoin="round">
<!-- top oring (darker) -->
<ellipse cx="121.1" cy="313.6" rx="26.7" ry="4.1" stroke="#666" stroke-width=".8"/>
<ellipse cx="121.1" cy="313.8" rx="23" ry="2.7" stroke="#999" stroke-width=".7"/>
<path d="M104 313.6H138" stroke="#aaa" stroke-width=".7" stroke-dasharray="1.2 1"/>
<path d="M141 310.6v3.2" stroke="#777" stroke-width=".7"/>
<!-- top cap -->
<ellipse cx="119.4" cy="341.6" rx="21.6" ry="3.3"/>
<ellipse cx="119.4" cy="341.4" rx="17" ry="2.3"/>
<path d="M101 341.4H138" stroke-dasharray="1.6 1.2" stroke="#b0b0b0" stroke-width="1"/>
<path d="M97.8 341.8V347.4M141 341.8V347.4"/>
<ellipse cx="119.4" cy="350.6" rx="29" ry="4.2"/>
<path d="M90.4 350.8V353.4C96 357.4 108 358.6 119.4 358.6C131 358.6 143 357.4 148.4 353.4V350.8"/>
<path d="M97.8 346C104 348.6 112 349.2 119.4 349.2C127 349.2 135 348.6 141 346"/>
<path d="M92.6 356V361.6M146.2 356V361.6"/>
<!-- threads -->
<path d="M92 361.4V371.4C98 374.6 108 375.6 119.2 375.6C130 375.6 140 374.6 146.3 371.4V361.4C140 364.4 130 365.4 119.2 365.4C108 365.4 98 364.4 92 361.4Z" fill="#c6c6c6" stroke="#b4b4b4"/>
<path d="M92 364.6C98 367.8 108 368.8 119.2 368.8C130 368.8 140 367.8 146.3 364.6M92 368C98 371.2 108 372.2 119.2 372.2C130 372.2 140 371.2 146.3 368" stroke="#aaa" stroke-width=".5"/>
<!-- neck -->
<path d="M98 373.6V384C103 386.8 111 387.6 119.4 387.6C128 387.6 136 386.8 140.5 384V373.6"/>
<path d="M98 380.6C103 383.4 111 384.2 119.4 384.2C128 384.2 136 383.4 140.5 380.6"/>
<!-- body -->
<path d="M100 386C101.6 410 104.4 425 104.4 440C104.4 465 100.4 490 98.6 512M138.8 386C137 410 135.6 425 135.6 440C135.6 465 138.6 490 140.2 512"/>
<path d="M121.4 358V1034" stroke="#d2d2d2"/>
<!-- lower nut -->
<path d="M98.6 512V538.6C104 541 112 541.8 119.6 541.8C127 541.8 135 541 140.2 538.6V512"/>
<path d="M98.6 512C104 514.6 112 515.4 119.6 515.4C127 515.4 135 514.6 140.2 512"/>
<path d="M100.6 531.6H109V540M114.6 532.4H126.6V541M132.4 531.6H138.6"/>
<!-- shaft -->
<path d="M104.4 541V912M133.2 540V912" stroke="#d6d6d6"/>
<!-- lower fitting -->
<path d="M104.4 912L102.6 916.4V947M133.2 912L135.6 916.4V947M104.4 912C110 913.6 128 913.6 133.2 912"/>
<path d="M112.6 922.4C112.6 919 115 917.6 118 917.6H123.4C126.4 917.6 128.6 919 128.6 922.4V926.4H112.6Z"/>
<path d="M102.6 941.6C108 943.6 130 943.6 135.6 941.6M102.6 947C108 949 130 949 135.6 947M102 947V952.4M136.2 947V952.4M102.6 952.4C108 954.4 130 954.4 135.6 952.4"/>
<circle cx="120.8" cy="948.6" r="4" stroke="#aaa"/><circle cx="120.8" cy="948.6" r="1.8" stroke="#aaa"/>
<path d="M102.8 949.4H115.6V945.4M126.2 949.4H135.4M107 944V949.4" />
<path d="M102.6 952.4V964.6C108 966.8 130 966.8 135.6 964.6V952.4M106.6 956.6H114.2V966M126.6 956.6V966M126.6 956.6H133"/>
<path d="M110.6 966.4V1032.6C113 1034.2 123 1034.2 125.8 1032.6V966.4"/>
<!-- nut 1 -->
<path d="M98 1071.6V1078.8C102 1081 110 1081.8 118.4 1081.8C127 1081.8 135 1081 139 1078.8V1071.6"/>
<ellipse cx="118.4" cy="1071.4" rx="20.5" ry="3"/>
<ellipse cx="118.4" cy="1071.2" rx="12" ry="1.7"/>
<path d="M102 1073.8V1080.2M110.6 1074.4V1081.4M120.4 1074.6V1081.8M130.4 1074.2V1081M136 1073.4V1079.6"/>
<!-- castle washer -->
<ellipse cx="118.2" cy="1096.6" rx="15.6" ry="2.4" stroke="#aaa"/>
<path d="M102.8 1097.4C108 1099.6 128 1099.6 133.6 1097.4" stroke="#aaa"/>
<path d="M109.6 1095.6V1091.4H113.4V1093H116.6V1090.6H120.4V1093H123.4V1091.4H127.4V1095.6M113.4 1093V1095.6M120.4 1093V1096M123.4 1093V1096" stroke="#aaa"/>
<!-- hex nut -->
<path d="M103 1106.4L108 1103.6H129L134 1106.4V1114.6L129 1117.4H108L103 1114.6Z"/>
<path d="M103 1106.4L108 1108.6H129L134 1106.4M119.6 1108.6V1117.4M108 1108.6V1117.4" />
<path d="M113 1103.8C116 1102.8 121 1102.8 124 1103.8" />
<!-- screw with washer -->
<path d="M112.4 1137.4V1150.4M124.6 1137.4V1150.4M112.4 1137.4C115 1136 122 1136 124.6 1137.4" stroke="#aaa"/>
<path d="M112.4 1139.6L124.6 1141.4M112.4 1142.2L124.6 1144M112.4 1144.8L124.6 1146.6M112.4 1147.4L124.6 1149.2" stroke="#999" stroke-width=".9"/>
<ellipse cx="118.6" cy="1152.2" rx="15.4" ry="2.3" stroke="#aaa"/>
<path d="M103.2 1152.6V1153.8C108 1156 128 1156 134 1153.8V1152.6M118.6 1150V1154.6" stroke="#aaa"/>
<!-- lower nut -->
<path d="M103 1186.4V1194.4C108 1196.8 113 1197.4 118.6 1197.4C124 1197.4 130 1196.8 134 1194.4V1186.4"/>
<ellipse cx="118.6" cy="1186.2" rx="15.6" ry="2.7"/>
<path d="M108 1185.4L113.6 1184.4L118.6 1186.6L124 1184.4L129.6 1185.4M119.2 1189V1197.4"/>
<!-- needle -->
<path d="M116.2 1218.6V1241.6M118.8 1218.6V1241.6M116.2 1218.6C116.8 1217.8 118.2 1217.8 118.8 1218.6" stroke="#aaa"/>
<path d="M115.4 1241.6H119.6V1246.4H115.4ZM115.4 1243.2H119.6M115.4 1244.8H119.6" stroke="#999"/>
<path d="M114.2 1246.4H120.8V1251H114.2Z" stroke="#aaa"/>
<!-- base valve -->
<path d="M100.4 1268.4V1281C104 1283 112 1283.8 118.6 1283.8C125 1283.8 133 1283 136.6 1281V1268.4C133 1270.4 125 1271.2 118.6 1271.2C112 1271.2 104 1270.4 100.4 1268.4Z" fill="#c6c6c6" stroke="#aaa"/>
<ellipse cx="118.6" cy="1268.2" rx="18.2" ry="2.8" fill="#fff" stroke="#aaa"/>
<path d="M100.4 1273C104 1275 112 1275.8 118.6 1275.8C125 1275.8 133 1275 136.6 1273M100.4 1277C104 1279 112 1279.8 118.6 1279.8C125 1279.8 133 1279 136.6 1277" stroke="#aaa" stroke-width=".5"/>
<path d="M100.4 1281V1293.6C104 1295.8 112 1296.6 118.6 1296.6C125 1296.6 133 1295.8 136.6 1293.6V1281M120.6 1284V1296.6"/>
<path d="M107 1296V1303.6C111 1305 126 1305 129.4 1303.6V1296M111.4 1304.6V1311C114 1312 123 1312 125.4 1311V1304.6M118 1305V1312" stroke="#b4b4b4"/>
</g>

<!-- 70_fender.svg -->
<g id="fender" stroke="#666" fill="none" stroke-width=".6" stroke-linecap="round" stroke-linejoin="round">
<!-- fender body (lighter) -->
<g stroke="#8a8a8a">
<path d="M1056.6 1480.6C1070 1478 1082 1477 1095.1 1477.2C1108 1477.6 1120 1478.8 1131.4 1480.6C1148 1483 1162 1485.6 1176.8 1488.5C1192 1491.6 1206 1495 1217.6 1498.8C1222 1504 1226 1510 1228.9 1515.8L1233.4 1527.1L1236.8 1535L1227.8 1549.8L1225.5 1540.7L1166.6 1548.6L1160.9 1556.6L1154.1 1573.6L1134.8 1582.7"/>
<path d="M1095.1 1494.2C1108 1490.6 1120 1488.4 1131.4 1487.4C1146 1487 1160 1489 1172.2 1492"/>
<path d="M1126.9 1529.4C1136 1527.6 1145 1526 1154.1 1524.8C1170 1523.4 1185 1522.8 1199.4 1522.6C1210 1523 1221 1524.2 1231.2 1526"/>
<path d="M1133.7 1535C1148 1532.4 1162 1530 1176.8 1528.2C1195 1527 1212 1527.4 1230.6 1528.6"/>
<path d="M1160.9 1545.2L1225.5 1537.3L1232.6 1527.6M1163 1551.4L1224 1543.4L1226.6 1546.4"/>
<path d="M1137 1565L1143 1569.4L1151.6 1566.4L1158 1551L1163 1544.6" />
<path d="M1140 1571L1147 1574.4M1150 1562.4L1155.6 1568.4M1145.6 1564.4V1571.4" />
<!-- left/mid underside -->
<path d="M986.3 1495.4C1000 1493.6 1012 1492.6 1024.8 1492"/>
<path d="M1014.6 1558.8L1029.4 1549.8L1037.3 1535C1044 1532.4 1050 1531.2 1056.6 1530.5C1072 1529.6 1088 1529.4 1101.9 1529.4L1108.7 1524.8"/>
<path d="M1006.7 1511.2C1036 1506.6 1066 1504.2 1095.1 1503.3"/>
<path d="M997.6 1518C1003 1514 1010 1510 1018 1507C1042 1503 1068 1500.6 1092 1499.6"/>
<path d="M990 1496C998 1497 1006 1496 1014 1493.4C1008 1500 1003 1508 1000 1517L1008 1524.8"/>
<path d="M984 1524.8L1007.8 1521M989 1540L1011 1536.6M992 1552L1013 1549"/>
<path d="M1062 1487C1076 1484 1090 1483 1104 1483.4" />
</g>
<!-- bracket (darker) -->
<g stroke="#444" stroke-width=".7">
<path d="M962.5 1487.4V1484L965.9 1480.6C973 1479 981 1478.2 988.5 1478.3L1022.6 1481.7L1026 1471.5C1027 1469.6 1028.6 1468.8 1030.5 1468.6L1045.2 1470C1047.4 1470.6 1048.8 1471.4 1049.8 1472.7L1054.3 1480.6C1057 1483.6 1060 1485.8 1063.4 1487.4L1095.1 1495.4L1108.7 1498.8C1113 1499.8 1116 1501.8 1117.8 1504.4C1120 1507 1121.2 1510 1121.2 1513.5C1121 1516 1120.2 1518.4 1118.9 1520.3L1138.2 1567.9L1149.5 1573.6"/>
<path d="M962.5 1487.4C965 1491.6 969 1496 973.8 1501L984 1524.8L992 1552L997.6 1561.1L1014.6 1558.8L1013.5 1556.6L1007.8 1524.8"/>
<path d="M984 1486.3L980.6 1502.2L989.7 1527.1L999 1556L1001 1560.6"/>
<path d="M984 1486.3C996 1486.4 1008 1487.2 1018 1488.5L1058.8 1495.4L1086.1 1501C1091 1502.6 1095 1505 1097.4 1507.8L1106.5 1518L1108.7 1522.6L1122.3 1558.8L1129.1 1579.3L1134.8 1582.7"/>
<path d="M977 1482.4C990 1481.6 1004 1482.4 1020 1485L1060 1492L1090 1498.4" stroke-dasharray="4 1.5"/>
<path d="M1112 1521L1130 1566L1136 1572M1116 1521L1134 1565" stroke-opacity=".8"/>
<path d="M1134 1565L1141 1562.6L1145 1567M1136 1572L1140 1574" />
<circle cx="972.7" cy="1489" r="3.9"/><circle cx="972.7" cy="1489" r="2.2" stroke="#777"/>
<circle cx="1036.2" cy="1479.5" r="3.6"/><circle cx="1036.2" cy="1479.5" r="2" stroke="#777"/>
<circle cx="1108.7" cy="1510.8" r="4.6"/><circle cx="1108.7" cy="1510.8" r="2.6" stroke="#777"/>
<path d="M1006 1556.8L1007 1560" stroke="#222" stroke-width="1"/>
</g>
</g>
<g id="fscrews" fill="none" stroke="#888" stroke-width=".7">
<g id="fs1">
<ellipse cx="862.2" cy="1496.4" rx="3.2" ry="2.9"/>
<path d="M860.2 1494.2L862.6 1489.6C863.6 1488.6 865.6 1489 866.2 1490.4L864.8 1495M862 1491L865.6 1492.2M861.4 1492.4L865 1493.6" stroke="#666"/>
<path d="M859.6 1498.2C861 1499.8 863.6 1499.8 865 1498.2" stroke="#aaa"/>
</g>
<g transform="translate(71.6 46.4)">
<ellipse cx="862.2" cy="1496.4" rx="3.2" ry="2.9"/>
<path d="M860.2 1494.2L862.6 1489.6C863.6 1488.6 865.6 1489 866.2 1490.4L864.8 1495M862 1491L865.6 1492.2M861.4 1492.4L865 1493.6" stroke="#666"/>
<path d="M859.6 1498.2C861 1499.8 863.6 1499.8 865 1498.2" stroke="#aaa"/>
</g>
<g transform="translate(11.4 93.2)">
<ellipse cx="862.2" cy="1496.4" rx="3.2" ry="2.9"/>
<path d="M860.2 1494.2L862.6 1489.6C863.6 1488.6 865.6 1489 866.2 1490.4L864.8 1495M862 1491L865.6 1492.2M861.4 1492.4L865 1493.6" stroke="#666"/>
<path d="M859.6 1498.2C861 1499.8 863.6 1499.8 865 1498.2" stroke="#aaa"/>
</g>
</g>

<!-- 75_small.svg -->

<g transform="translate(553.1 1360.1)">
<ellipse cx="0" cy="0" rx="3.6" ry="3.1" fill="#222"/>
<path d="M-1.2 -1.2H1.2V1.2H-1.2Z" fill="#999"/>
<circle cx="9" cy="0.2" r="2.3" fill="#fff" stroke="#777" stroke-width="1"/>
<circle cx="9" cy="0.2" r=".8" fill="#aaa"/>
<ellipse cx="17" cy="0" rx="3.5" ry="3.3" fill="#fff" stroke="#aaa" stroke-width=".7"/>
<path d="M16.4 -3.2V3.2M19.2 -2.2V2.2M21.2 -1.8V1.8" stroke="#bbb" stroke-width=".6" fill="none"/>
<ellipse cx="30.6" cy="-0.1" rx="4.9" ry="5.4" fill="#fff" stroke="#888" stroke-width="1"/>
<ellipse cx="45.3" cy="-0.1" rx="7.1" ry="7.7" fill="#8a8a8a" stroke="#3a3a3a" stroke-width="1.1"/>
<path d="M50 -6L52 -4.6M51.6 -2.6L52.6 0M51.6 2.6L50 6" stroke="#555" stroke-width="1" fill="none"/>
<ellipse cx="44" cy="-0.3" rx="4.6" ry="5.2" fill="#b5b5b5" stroke="#333" stroke-width=".9"/>
<ellipse cx="43.4" cy="-0.4" rx="2.4" ry="2.8" fill="#ddd" stroke="#555" stroke-width=".7"/>
</g>
<g transform="translate(745.9 1356.7)">
<ellipse cx="0" cy="0" rx="3.6" ry="3.1" fill="#222"/>
<path d="M-1.2 -1.2H1.2V1.2H-1.2Z" fill="#999"/>
<circle cx="9" cy="0.2" r="2.3" fill="#fff" stroke="#777" stroke-width="1"/>
<circle cx="9" cy="0.2" r=".8" fill="#aaa"/>
<ellipse cx="17" cy="0" rx="3.5" ry="3.3" fill="#fff" stroke="#aaa" stroke-width=".7"/>
<path d="M16.4 -3.2V3.2M19.2 -2.2V2.2M21.2 -1.8V1.8" stroke="#bbb" stroke-width=".6" fill="none"/>
<ellipse cx="30.6" cy="-0.1" rx="4.9" ry="5.4" fill="#fff" stroke="#888" stroke-width="1"/>
<ellipse cx="45.3" cy="-0.1" rx="7.1" ry="7.7" fill="#8a8a8a" stroke="#3a3a3a" stroke-width="1.1"/>
<path d="M50 -6L52 -4.6M51.6 -2.6L52.6 0M51.6 2.6L50 6" stroke="#555" stroke-width="1" fill="none"/>
<ellipse cx="44" cy="-0.3" rx="4.6" ry="5.2" fill="#b5b5b5" stroke="#333" stroke-width=".9"/>
<ellipse cx="43.4" cy="-0.4" rx="2.4" ry="2.8" fill="#ddd" stroke="#555" stroke-width=".7"/>
</g>
<g id="p17" fill="none">
<path d="M578.4 1288.9L582.2 1286.3L587.4 1284.7L596.5 1286.3L600.3 1291.9L600.7 1296.5L595.8 1304L587.4 1309.3L583.7 1309.7L582.2 1306.3Z" stroke="#2e2e2e" stroke-width="1.05"/>
<path d="M580.6 1290.6L584 1288.4L588.6 1287.2L595.6 1288.6L598.2 1292.8M581.6 1292.2C586 1290.4 592 1290.2 597.6 1291.4M583.4 1293.4L585.6 1305M583.4 1293.4L596.6 1292.4L598.4 1297.4L594 1303.4L586.6 1307.4" stroke="#3a3a3a" stroke-width=".8"/>
<path d="M586.4 1294.6L588.4 1303.6L594 1300L596.4 1294.2ZM588.6 1296.6H593.6L592.4 1300.4H589.4Z" stroke="#444" stroke-width=".8"/>
<circle cx="595" cy="1296" r="1.6" stroke="#666" stroke-width=".6"/>
<ellipse cx="604.4" cy="1282.8" rx="2.3" ry="2" fill="#2a2a2a" stroke="#222" stroke-width=".6" transform="rotate(25 604.4 1282.8)"/>
<path d="M605.6 1281.2L608.6 1282.4M605 1284.6L608 1286" stroke="#555" stroke-width=".7"/>
<circle cx="610.8" cy="1284.8" r="3.3" stroke="#666" stroke-width=".7"/>
<circle cx="610.8" cy="1284.8" r="1.5" stroke="#555" stroke-width=".8"/>
</g>

<!-- 80_bottom.svg -->
<g id="asm4" fill="none">
<!-- washer -->
<ellipse cx="470.8" cy="1805.6" rx="11.8" ry="2.7" stroke="#999" stroke-width=".8"/>
<path d="M461 1807.4C466 1808.8 476 1808.8 481 1807.4" stroke="#bbb" stroke-width=".7"/>
<!-- bolt 19 -->
<path d="M464.5 1817V1834.3H476.3V1817C474 1815.4 467 1815.4 464.5 1817Z" fill="#d4d4d4" stroke="#777" stroke-width=".7"/>
<path d="M464.5 1819.4L476.3 1821M464.5 1822.2L476.3 1823.8M464.5 1825L476.3 1826.6M464.5 1827.8L476.3 1829.4M464.5 1830.6L476.3 1832.2M464.5 1833.2L476.3 1834.2" stroke="#777" stroke-width=".9"/>
<path d="M456.9 1836.4V1840.4C460 1842.4 465 1843 470.2 1843C475 1843 480 1842.4 483.5 1840.4V1836.4" stroke="#777" stroke-width=".7"/>
<ellipse cx="470.2" cy="1836.4" rx="13.3" ry="2.4" stroke="#777" stroke-width=".7"/>
<path d="M459 1835.4L462 1841.6M481.4 1835.4L478.6 1841.6M462 1838.8H478.6" stroke="#999" stroke-width=".6"/>
<path d="M464.8 1843V1846.4M475.7 1843V1846.4" stroke="#888" stroke-width=".7"/>
<path d="M463.9 1846.8V1854.6C466 1855.8 474 1855.8 476.9 1854.6V1846.8C474 1845.6 466 1845.6 463.9 1846.8ZM463.9 1846.8C466 1848 474 1848 476.9 1846.8" stroke="#888" stroke-width=".7"/>
<!-- rod -->
<path d="M469.2 1882.4V1937.6M473.9 1882.4V1937.6M469.2 1882.4C470 1881.4 473 1881.4 473.9 1882.4" stroke="#888" stroke-width=".7"/>
<path d="M469.2 1899.4H473.9M469.2 1902.4H473.9" stroke="#777" stroke-width=".7"/>
<path d="M471 1883V1937" stroke="#ccc" stroke-width=".6"/>
<!-- thread -->
<path d="M465.2 1938.8V1958H477.7V1938.8C475 1937.2 468 1937.2 465.2 1938.8Z" fill="#d4d4d4" stroke="#666" stroke-width=".7"/>
<path d="M465.2 1940.4L477.7 1942M465.2 1943.2L477.7 1944.8M465.2 1946L477.7 1947.6M465.2 1948.8L477.7 1950.4M465.2 1951.6L477.7 1953.2M465.2 1954.4L477.7 1956M465.2 1957L477.7 1958.2" stroke="#666" stroke-width=".9"/>
<!-- knob -->
<path d="M454.3 1959.2V1983.7L458.6 1988.6C464 1990.2 480 1990.2 484.6 1988.6L488.7 1983.7V1959.2" fill="#fff" stroke="#777" stroke-width=".7"/>
<ellipse cx="471.5" cy="1959" rx="17.2" ry="2.3" fill="#fff" stroke="#555" stroke-width=".9"/>
<path d="M465.2 1958.4C468 1959.6 475 1959.6 477.7 1958.4" stroke="#666" stroke-width=".6"/>
<path d="M455.9 1984.4V1968C455.9 1966.4 457 1965.6 459.3 1965.6C461.6 1965.6 462.7 1966.4 462.7 1968V1986.4M471.2 1988V1968.6C471.2 1967 472.6 1966.2 475.4 1966.2C478.2 1966.2 479.6 1967 479.6 1968.6V1987.6M486.5 1985V1967.6C486.6 1966.6 487.4 1966 488.7 1965.8" stroke="#888" stroke-width=".7"/>
<path d="M458 1967V1984M474.6 1968V1986" stroke="#ccc" stroke-width=".6"/>
<path d="M466.4 1961V1989.4" stroke="#ccc" stroke-width=".6"/>
<path d="M454.3 1983.7C460 1985.6 483 1985.6 488.7 1983.7" stroke="#aaa" stroke-width=".6"/>
</g>
<g id="boltR" fill="none">
<path d="M652.1 1804.9H664.2" stroke="#bbb" stroke-width=".7"/>
<path d="M652.1 1807.3H664.2" stroke="#666" stroke-width=".8"/>
<path d="M652.1 1804.9V1807.3M664.2 1804.9V1807.3" stroke="#999" stroke-width=".6"/>
<path d="M653 1821.4V1839H663.9V1821.4C662 1820 655 1820 653 1821.4Z" fill="#cfcfcf" stroke="#777" stroke-width=".7"/>
<path d="M653 1823.4L663.9 1824.8M653 1826L663.9 1827.4M653 1828.6L663.9 1830M653 1831.2L663.9 1832.6M653 1833.8L663.9 1835.2M653 1836.4L663.9 1837.8" stroke="#777" stroke-width=".9"/>
<ellipse cx="658" cy="1840.4" rx="9.8" ry="2" stroke="#666" stroke-width=".8"/>
<path d="M648.2 1840.6V1844.4C651 1846 655 1846.4 658 1846.4C661 1846.4 665 1846 667.8 1844.4V1840.6" stroke="#666" stroke-width=".8"/>
<path d="M648.4 1844.4L651.8 1850.6C654 1852 662 1852 665.1 1850.6L667.6 1844.4" stroke="#777" stroke-width=".7"/>
<path d="M651.4 1849.4C654 1850.8 662 1850.8 665.4 1849.4" stroke="#aaa" stroke-width=".6"/>
</g>

<!-- 90_labels.svg -->
<g id="labels">
<text x="190.0" y="117.8" textLength="80.6" lengthAdjust="spacingAndGlyphs">See Note 1</text>
<text x="40.7" y="322.1" textLength="33.3" lengthAdjust="spacingAndGlyphs">200h</text>
<text x="9.6" y="685.3" textLength="82.0" lengthAdjust="spacingAndGlyphs">See Note 1</text>
<text x="171.8" y="954.1" textLength="33.7" lengthAdjust="spacingAndGlyphs">200h</text>
<text x="170.3" y="1115.7" textLength="33.9" lengthAdjust="spacingAndGlyphs">200h</text>
<text x="171.8" y="1197.6" textLength="33.7" lengthAdjust="spacingAndGlyphs">200h</text>
<text x="600.0" y="338.4" textLength="7.9" lengthAdjust="spacingAndGlyphs">2</text>
<text x="920.3" y="137.3" textLength="35.7" lengthAdjust="spacingAndGlyphs">200H</text>
<text x="1050.5" y="147.8" textLength="14.9" lengthAdjust="spacingAndGlyphs">10</text>
<text x="1033.9" y="245.0" textLength="14.1" lengthAdjust="spacingAndGlyphs">12</text>
<text x="832.2" y="435.3" textLength="35.3" lengthAdjust="spacingAndGlyphs">200H</text>
<text x="1087.8" y="463.1" textLength="35.4" lengthAdjust="spacingAndGlyphs">200H</text>
<text x="1294.0" y="590.4" textLength="16.0" lengthAdjust="spacingAndGlyphs">14</text>
<text x="1055.0" y="734.4" textLength="18.5" lengthAdjust="spacingAndGlyphs">U2</text>
<text x="886.6" y="817.6" textLength="64.0" lengthAdjust="spacingAndGlyphs">200h, SH</text>
<text x="927.2" y="926.5" textLength="35.7" lengthAdjust="spacingAndGlyphs">200H</text>
<text x="921.1" y="949.3" textLength="35.0" lengthAdjust="spacingAndGlyphs">200H</text>
<text x="507.1" y="1074.9" textLength="113.1" lengthAdjust="spacingAndGlyphs">200h, U5, BULK</text>
<text x="510.5" y="1118.2" textLength="88.4" lengthAdjust="spacingAndGlyphs">200h, U5, 18</text>
<text x="694.4" y="1075.9" textLength="113.0" lengthAdjust="spacingAndGlyphs">200h, U5, BULK</text>
<text x="693.4" y="1115.8" textLength="88.4" lengthAdjust="spacingAndGlyphs">200h, U5, 18</text>
<text x="555.8" y="1253.2" textLength="14.4" lengthAdjust="spacingAndGlyphs">17</text>
<text x="560.4" y="1392.2" textLength="18.5" lengthAdjust="spacingAndGlyphs">U4</text>
<text x="758.0" y="1389.3" textLength="18.2" lengthAdjust="spacingAndGlyphs">U4</text>
<text x="511.4" y="1456.0" textLength="5.2" lengthAdjust="spacingAndGlyphs">1</text>
<text x="981.0" y="1600.0" textLength="19.0" lengthAdjust="spacingAndGlyphs">U3</text>
<text x="545.4" y="1771.0" textLength="15.1" lengthAdjust="spacingAndGlyphs">16</text>
<text x="336.3" y="1820.3" textLength="87.1" lengthAdjust="spacingAndGlyphs">U5, 200h, 20</text>
<text x="680.3" y="1811.2" textLength="88.4" lengthAdjust="spacingAndGlyphs">200h, U5, 20</text>
<text x="669.6" y="1843.6" textLength="14.5" lengthAdjust="spacingAndGlyphs">19</text>
<text x="416.1" y="1873.4" textLength="15.8" lengthAdjust="spacingAndGlyphs">19</text>
<text x="508.3" y="1886.1" textLength="8.0" lengthAdjust="spacingAndGlyphs">4</text>
</g>
<g id="leaders" fill="none" stroke="#111" stroke-width="1.4">
<line x1="80.0" y1="317.1" x2="91.8" y2="314.6"/>
<line x1="141.5" y1="947.8" x2="164.8" y2="947.8"/>
<line x1="138.5" y1="1109.1" x2="162.3" y2="1109.1"/>
<line x1="139.9" y1="1189.2" x2="163.6" y2="1189.2"/>
<line x1="962.4" y1="129.0" x2="972.0" y2="129.0"/>
<line x1="884.8" y1="425.4" x2="900.4" y2="419.9"/>
<line x1="883.5" y1="438.6" x2="898.5" y2="448.6"/>
<line x1="1140.9" y1="448.6" x2="1156.4" y2="443.2"/>
<line x1="1141.1" y1="461.9" x2="1156.4" y2="471.5"/>
<line x1="971.4" y1="922.1" x2="986.8" y2="922.1"/>
<line x1="963.7" y1="951.2" x2="979.6" y2="951.2"/>
<line x1="569.9" y1="1264.9" x2="577.6" y2="1277.1"/>
<line x1="583.0" y1="1262.7" x2="593.3" y2="1272.5"/>
<line x1="539.7" y1="1737.0" x2="547.6" y2="1748.3"/>
<line x1="563.5" y1="1739.3" x2="556.7" y2="1748.3"/>
<line x1="532.4" y1="1752.9" x2="544.7" y2="1752.2"/>
<line x1="560.1" y1="1752.4" x2="571.9" y2="1751.7"/>
<line x1="664.4" y1="1805.7" x2="675.7" y2="1804.6"/>
<line x1="437.9" y1="1814.1" x2="452.1" y2="1807.2"/>
<line x1="445.2" y1="1860.4" x2="459.3" y2="1853.1"/>
</g>
<g id="braces" fill="none" stroke="#111" stroke-width="1.5" stroke-linecap="round" stroke-linejoin="round">
<path d="M1038.0 81.3C1039.8 81.9 1040.4 85.3 1040.4 91.3L1040.4 137.0Q1040.4 140.5 1042.2 142.0Q1040.4 143.5 1040.4 147.0L1040.4 192.9C1040.4 198.9 1039.8 202.3 1038.0 202.9"/>
<path d="M1033.3 389.5C1037.5 390.1 1038.9 409.5 1038.9 439.5L1038.9 722.2Q1038.9 725.7 1041.3 727.2Q1038.9 728.7 1038.9 732.2L1038.9 1049.6C1038.9 1058.6 1037.5 1064.0 1033.3 1064.6"/>
<path d="M1282.6 407.4C1284.8 408.0 1285.6 419.4 1285.6 437.4L1285.6 581.5Q1285.6 585.0 1287.6 586.5Q1285.6 588.0 1285.6 591.5L1285.6 755.0C1285.6 763.4 1284.8 768.4 1282.6 769.0"/>
<path d="M962.5 741.3C961.1 741.9 960.6 747.7 960.6 757.3L960.6 801.5Q960.6 805.0 959.2 806.5Q960.6 808.0 960.6 811.5L960.6 851.2C960.6 860.8 961.1 866.6 962.5 867.2"/>
<path d="M496.9 1804.1C499.1 1804.7 499.9 1813.7 499.9 1828.1L499.9 1882.7Q499.9 1886.2 501.7 1887.7Q499.9 1889.2 499.9 1892.7L499.9 1957.4C499.9 1965.8 499.1 1970.8 496.9 1971.4"/>
</g>
<g id="boxes" fill="none" stroke="#2a2a2a" stroke-width="1.25">
<rect x="533.4" y="1339.3" width="85.8" height="35.8"/>
<rect x="728.6" y="1337.6" width="86.2" height="35.6"/>
<rect x="806.5" y="1438.2" width="464.5" height="226.6"/>
</g>

</svg>
</body></html>
